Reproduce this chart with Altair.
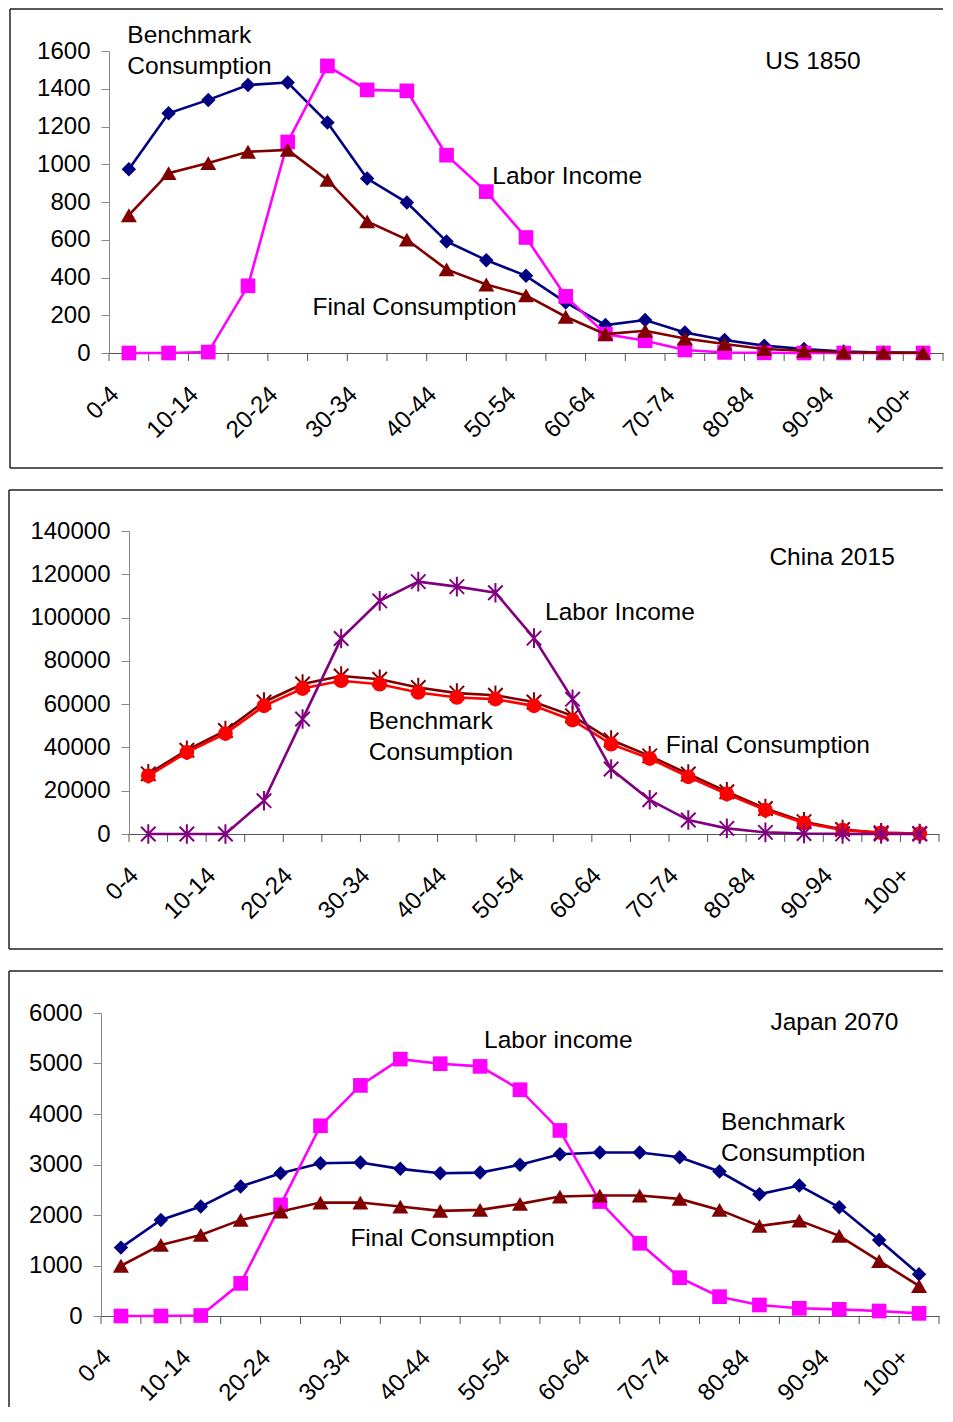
import altair as alt
import pandas as pd

# ---------------- data ----------------
ages = ['0-4', '5-9', '10-14', '15-19', '20-24', '25-29', '30-34', '35-39', '40-44',
        '45-49', '50-54', '55-59', '60-64', '65-69', '70-74', '75-79', '80-84',
        '85-89', '90-94', '95-99', '100+']
shown_labels = ['0-4', '10-14', '20-24', '30-34', '40-44', '50-54', '60-64',
                '70-74', '80-84', '90-94', '100+']

us_benchmark = [973, 1270, 1341, 1420, 1433, 1221, 924, 797, 591, 492, 409, 268,
                148, 175, 109, 69, 39, 21, 8, 3, 1]
us_final = [730, 953, 1006, 1066, 1076, 917, 697, 601, 443, 363, 305, 192,
            100, 118, 77, 48, 21, 12, 4, 2, 1]
us_labor = [0, 0, 5, 356, 1118, 1521, 1394, 1389, 1048, 855, 612, 300,
            100, 65, 16, 3, 1, 0, 0, 0, 0]
us_ticks = [0, 200, 400, 600, 800, 1000, 1200, 1400, 1600]

china_benchmark = [27800, 38700, 47800, 61000, 69300, 73000, 71500, 67700, 65100,
                   64100, 61000, 54600, 43400, 36100, 27700, 19500, 11800, 5700,
                   2100, 600, 250]
china_final = [26900, 37700, 46400, 59200, 67200, 70800, 69200, 65400, 63100,
               62300, 59200, 52600, 41500, 34900, 26400, 18500, 11100, 5100,
               1850, 500, 200]
china_labor = [0, 0, 0, 15400, 53100, 90300, 107700, 116600, 114300, 111500,
               90500, 62300, 30000, 15800, 6450, 2600, 750, 200, 50, 0, 0]
china_ticks = [0, 20000, 40000, 60000, 80000, 100000, 120000, 140000]

japan_benchmark = [1354, 1903, 2167, 2563, 2828, 3025, 3039, 2914, 2828, 2840,
                   2993, 3204, 3237, 3237, 3145, 2861, 2411, 2583, 2153, 1507, 825]
japan_final = [995, 1407, 1606, 1903, 2068, 2246, 2246, 2167, 2081, 2101, 2220,
               2365, 2385, 2385, 2319, 2101, 1784, 1889, 1586, 1090, 595]
japan_labor = [0, 0, 10, 646, 2200, 3767, 4566, 5087, 4996, 4943, 4481, 3674,
               2266, 1440, 759, 383, 218, 152, 132, 99, 52]
japan_ticks = [0, 1000, 2000, 3000, 4000, 5000, 6000]

us_notes = [('Benchmark', '0-4', 1686), ('Consumption', '0-4', 1525),
            ('US 1850', '80-84', 1552), ('Labor Income', '45-49', 943),
            ('Final Consumption', '25-29', 246)]
china_notes = [('China 2015', '80-84', 128000), ('Labor Income', '50-54', 102600),
               ('Benchmark', '30-34', 52300), ('Consumption', '30-34', 38000),
               ('Final Consumption', '65-69', 41200)]
japan_notes = [('Japan 2070', '80-84', 5835), ('Labor income', '45-49', 5472),
               ('Benchmark', '75-79', 3852), ('Consumption', '75-79', 3241),
               ('Final Consumption', '30-34', 1556)]

# ---------------- styling ----------------
FONT = 'Liberation Sans'
FS = 24
NOTE_FS = 24.5
ASTERISK = 'M-1,-1L1,1M-1,1L1,-1M0,-1.35L0,1.35'
NAVY, DARKRED, MAGENTA, PURPLE, RED = '#000080', '#800000', '#FF00FF', '#800080', '#FF0000'
AXIS_X, AXIS_Y = '#555555', '#888888'

label_expr = "indexof([" + ",".join("'%s'" % s for s in shown_labels) + "], datum.value) >= 0 ? datum.label : ''"

PLOT_W = 842
FRAME_R = 842


def make_panel(series, ticks, notes, note_dx, xr, plot_h, fl, ft, fb, draw_bottom=True):
    xscale = alt.Scale(type='band', domain=ages, range=xr, paddingInner=0, paddingOuter=0)
    X = alt.X('age:N', scale=xscale,
              axis=alt.Axis(title=None, ticks=False, labelAngle=-45,
                            labelAlign='right', labelBaseline='top', labelExpr=label_expr,
                            labelFont=FONT, labelFontSize=FS, labelColor='black',
                            labelPadding=29, labelOffset=-22,
                            domainColor=AXIS_X, domainWidth=1,
                            labelOverlap=False, grid=False))
    Y = alt.Y('value:Q',
              scale=alt.Scale(domain=[0, ticks[-1]], nice=False, zero=True),
              axis=alt.Axis(title=None, values=ticks, format='d', labelFont=FONT,
                            labelFontSize=FS, labelColor='black', labelPadding=11,
                            tickSize=8, tickColor=AXIS_Y, domainColor=AXIS_Y,
                            domainWidth=1, labelOverlap=False, grid=False,
                            offset=-xr[0]))
    layers = []
    # x-axis ticks at band boundaries
    tick_df = pd.DataFrame({'age': ages})
    layers.append(alt.Chart(tick_df).mark_rule(color=AXIS_X, strokeWidth=1).encode(
        x=alt.X('age:N', scale=xscale, bandPosition=0),
        y=alt.value(plot_h), y2=alt.value(plot_h + 8)))
    layers.append(alt.Chart(pd.DataFrame({'age': [ages[-1]]})).mark_rule(
        color=AXIS_X, strokeWidth=1).encode(
        x=alt.X('age:N', scale=xscale, bandPosition=1),
        y=alt.value(plot_h), y2=alt.value(plot_h + 8)))
    for vals, color, shape, size, filled in series:
        df = pd.DataFrame({'age': ages, 'value': vals})
        base = alt.Chart(df)
        layers.append(base.mark_line(color=color, strokeWidth=2.6).encode(x=X, y=Y))
        if filled:
            layers.append(base.mark_point(shape=shape, size=size, filled=True, color=color,
                                          opacity=1).encode(x=X, y=Y))
        else:
            layers.append(base.mark_point(shape=shape, size=size, filled=False, color=color,
                                          strokeWidth=2, opacity=1).encode(x=X, y=Y))
    for (txt, age, val), dx in zip(notes, note_dx):
        df = pd.DataFrame({'age': [age], 'value': [val], 'txt': [txt]})
        layers.append(alt.Chart(df).mark_text(align='left', baseline='middle', dx=dx, dy=1.5,
                                              font=FONT, fontSize=NOTE_FS, color='black')
                      .encode(x=X, y=Y, text='txt:N'))
    frame_df = pd.DataFrame({'k': [0]})
    fc = '#222222'
    layers.append(alt.Chart(frame_df).mark_rule(color=fc, strokeWidth=1.5)
                  .encode(x=alt.value(fl), y=alt.value(ft), y2=alt.value(fb)))
    layers.append(alt.Chart(frame_df).mark_rule(color=fc, strokeWidth=1.5)
                  .encode(x=alt.value(fl), x2=alt.value(FRAME_R), y=alt.value(ft)))
    if draw_bottom:
        layers.append(alt.Chart(frame_df).mark_rule(color=fc, strokeWidth=1.5)
                      .encode(x=alt.value(fl), x2=alt.value(FRAME_R), y=alt.value(fb)))
    return alt.layer(*layers).properties(width=PLOT_W, height=plot_h)


us = make_panel(
    [(us_benchmark, NAVY, 'diamond', 210, True),
     (us_labor, MAGENTA, 'square', 215, True),
     (us_final, DARKRED, 'triangle-up', 256, True)],
    us_ticks, us_notes, [-1.5, -1.5, 1, 6, -15],
    [8, 842], 302, -91, -42, 417)

china = make_panel(
    [(china_benchmark, DARKRED, ASTERISK, 210, False),
     (china_final, RED, 'circle', 216, True),
     (china_labor, PURPLE, ASTERISK, 210, False)],
    china_ticks, china_notes, [4, 11, -11, -11, 16],
    [28, 838], 303, -92, -41, 418)

japan = make_panel(
    [(japan_benchmark, NAVY, 'diamond', 210, True),
     (japan_labor, MAGENTA, 'square', 215, True),
     (japan_final, DARKRED, 'triangle-up', 256, True)],
    japan_ticks, japan_notes, [11, 4, 1.5, 1.5, -10],
    [0, 838], 303, -92, -42, 394, draw_bottom=False)

chart = alt.vconcat(us, china, japan, spacing=20).properties(
    padding=0, background='white'
).configure_view(strokeWidth=0)

chart.save('out.html', embed_options={'renderer': 'svg', 'actions': False})
